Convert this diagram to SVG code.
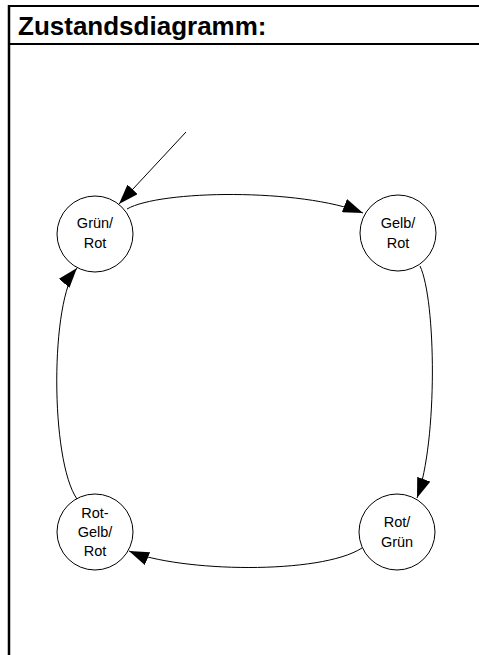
<svg xmlns="http://www.w3.org/2000/svg" width="479" height="655" viewBox="0 0 479 655">
<style>
.frame{stroke:#000;stroke-width:2;fill:none}
.node circle{fill:#fff;stroke:#000;stroke-width:1}
.node text{font-family:"Liberation Sans",Arial,sans-serif;font-size:14.5px;fill:#000;text-anchor:middle}
.title{font-family:"Liberation Sans",Arial,sans-serif;font-size:26px;font-weight:bold;fill:#000}
.edge{fill:none;stroke:#000;stroke-width:1;marker-end:url(#arr)}
</style>
<defs>
<marker id="arr" viewBox="0 0 20 14" refX="20" refY="7" markerWidth="20" markerHeight="14" markerUnits="userSpaceOnUse" orient="auto">
<path d="M0,0 L20,7 L0,14 Z" fill="#000"/>
</marker>
</defs>
<rect width="479" height="655" fill="#fff"/>
<g id="frame">
<line class="frame" x1="9" y1="6" x2="479" y2="6"/>
<line class="frame" x1="9" y1="5" x2="9" y2="655" style="stroke-width:2.5"/>
<line class="frame" x1="9" y1="44" x2="479" y2="44"/>
<text class="title" x="18" y="35">Zustandsdiagramm:</text>
</g>
<g id="connectors">
<line class="edge" x1="186" y1="132" x2="119" y2="204"/>
<path class="edge" d="M127,209 C160,190 300,188 363,213"/>
<path class="edge" d="M420,266 C436,300 438,440 417,498"/>
<path class="edge" d="M362,548 C320,575 180,572 129,551"/>
<path class="edge" d="M77,499 C50,460 50,300 77,268"/>
</g>
<g id="gruen-rot" class="node">
<circle cx="95" cy="234" r="38"/>
<text x="95" y="228">Grün/</text>
<text x="95" y="248">Rot</text>
</g>
<g id="gelb-rot" class="node">
<circle cx="398" cy="233" r="38"/>
<text x="398" y="228">Gelb/</text>
<text x="398" y="248">Rot</text>
</g>
<g id="rot-gruen" class="node">
<circle cx="397" cy="532" r="38"/>
<text x="397" y="527">Rot/</text>
<text x="397" y="547">Grün</text>
</g>
<g id="rot-gelb-rot" class="node">
<circle cx="95" cy="532" r="38"/>
<text x="95" y="518">Rot-</text>
<text x="95" y="537">Gelb/</text>
<text x="95" y="556">Rot</text>
</g>
</svg>
